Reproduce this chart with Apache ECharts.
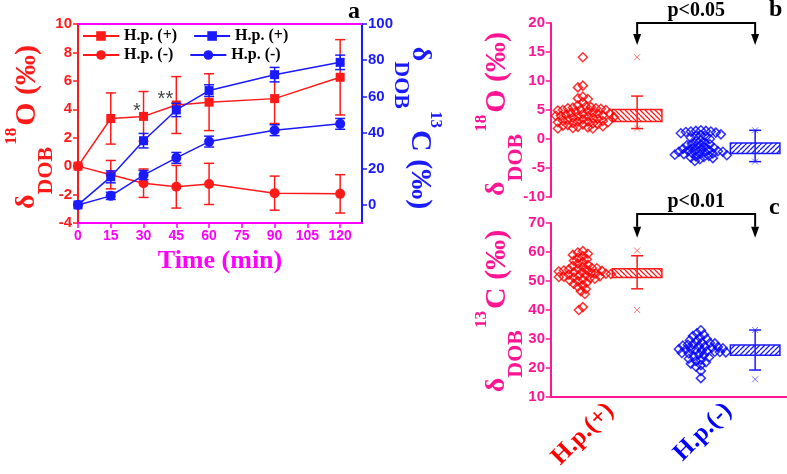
<!DOCTYPE html>
<html><head><meta charset="utf-8">
<script src="https://cdn.jsdelivr.net/npm/echarts@6/dist/echarts.min.js"></script>
<style>html,body{margin:0;padding:0;background:#fff}#c{width:787px;height:474px}</style>
</head><body><div id="c"></div>
<script>
// ---------- data: panel a ----------
const times = [0, 15, 30, 45, 60, 90, 120];
const timeTicks = [0, 15, 30, 45, 60, 75, 90, 105, 120];
const redPlus = [0, 3.35, 3.5, 4.3, 4.5, 4.75, 6.25];
const redPlusErr = [0, 1.8, 1.75, 2.0, 2.0, 1.75, 2.65];
const redMinus = [0, -0.6, -1.2, -1.45, -1.25, -1.9, -1.95];
const redMinusErr = [0, 1.0, 1.0, 1.5, 1.45, 1.2, 1.35];
const bluePlus = [0, 15.5, 35.5, 52.5, 63.2, 72.0, 78.8];
const bluePlusErr = [0, 3.3, 4.0, 3.7, 3.2, 4.0, 4.0];
const blueMinus = [0, 5.0, 16.5, 26.0, 35.0, 41.3, 44.8];
const blueMinusErr = [0, 2.0, 2.5, 3.0, 3.0, 3.0, 3.0];
const starNotes = [[27, 3.85, '*'], [40, 4.7, '**']];
const rightTicksA = [0, 20, 40, 60, 80, 100];

// ---------- data: panels b, c ----------
const groups = ['H.p.(+)', 'H.p.(-)'];
const o18Plus = [14.1, 9.2, 8.9, 7.3, 7.0, 6.9, 6.3, 5.8, 5.6, 5.5, 5.4, 5.3, 5.2, 5.1, 5.0, 5.0, 4.9, 4.8, 4.7, 4.6, 4.5, 4.4, 4.3, 4.2, 4.1, 4.0, 4.0, 3.9, 3.8, 3.7, 3.6, 3.5, 3.4, 3.3, 3.2, 3.1, 3.0, 3.0, 2.9, 2.8, 2.7, 2.6, 2.5, 2.4, 2.3, 2.2, 2.1, 2.0, 1.9, 1.8, 1.8, 2.9, 3.9, 4.4, 5.3];
const o18Minus = [1.5, 1.4, 1.4, 1.3, 1.3, 1.2, 1.1, 1.0, 0.8, 0.6, 0.4, 0.2, 0.0, -0.2, -0.4, -0.6, -0.8, -1.0, -1.1, -1.2, -1.4, -1.5, -1.6, -1.8, -1.9, -2.0, -2.0, -2.1, -2.2, -2.3, -2.4, -2.5, -2.6, -2.7, -2.8, -2.9, -3.0, -3.1, -3.2, -3.3, -3.5, -3.8, -1.7, -2.2, -0.9, 0.5, -2.6];
const c13Plus = [60.3, 59.8, 59.4, 59.0, 58.5, 58.0, 57.5, 57.0, 56.5, 56.0, 55.6, 55.2, 54.8, 54.5, 54.2, 54.0, 53.8, 53.5, 53.3, 53.1, 53.0, 52.8, 52.6, 52.4, 52.2, 52.0, 51.8, 51.6, 51.4, 51.2, 51.0, 50.8, 50.5, 50.2, 50.0, 49.5, 49.0, 48.5, 48.0, 47.2, 46.5, 45.5, 41.0, 40.0, 52.5, 53.6, 51.5, 54.4];
const c13Minus = [33.0, 32.0, 31.5, 31.0, 30.5, 30.0, 29.6, 29.2, 28.8, 28.5, 28.2, 28.0, 27.7, 27.4, 27.2, 27.0, 26.8, 26.6, 26.4, 26.2, 26.0, 25.8, 25.6, 25.4, 25.2, 25.0, 24.7, 24.4, 24.0, 23.6, 23.2, 22.8, 22.4, 22.0, 21.5, 21.0, 20.5, 19.0, 16.5, 26.5, 27.5, 25.5, 28.6];
// box stats: [q1, q3, whiskerLow, whiskerHigh, markLow, markHigh]
const o18Box = [[3.0, 5.1, 1.8, 7.4, 1.8, 14.1], [-2.5, -0.7, -3.9, 1.5, -3.9, 1.5]];
const c13Box = [[51.2, 54.2, 47.3, 58.7, 40.0, 60.5], [24.4, 27.9, 19.3, 33.1, 16.1, 33.1]];
const pLabels = ['p<0.05', 'p<0.01'];
const nameO18 = '{d|δ}{s|DOB}{p|18}{o|O (‰)}';
const nameC13 = '{d|δ}{s|DOB}{p|13}{o|C (‰)}';

// ---------- styles ----------
const RED = '#ff1a1a', BLUE = '#1a1aff', MAG = '#ff00ff', PINK = '#ff1493';
const SERIF = '"Liberation Serif","Times New Roman",serif';
const SANS = '"Liberation Sans",Arial,sans-serif';
const GCOL = [RED, BLUE];
const SWARM_OFF = -0.23, BOX_OFF = 0.23, BOX_W = 0.42;

function nameRich(color) {
  const b = {fontFamily: SERIF, fontWeight: 'bold', fill: color, color};
  return {
    d: Object.assign({}, b, {fontSize: 28, lineHeight: 60, verticalAlign: 'middle'}),
    s: Object.assign({}, b, {fontSize: 22, lineHeight: 22, verticalAlign: 'bottom'}),
    p: Object.assign({}, b, {fontSize: 17, lineHeight: 17, verticalAlign: 'top', padding: [6, 2, 0, 2]}),
    o: Object.assign({}, b, {fontSize: 30, lineHeight: 60, verticalAlign: 'middle'})
  };
}
function nameText(text, color, x, y, rot) {
  return {type: 'text', x, y, rotation: rot, silent: true,
    style: {text, rich: nameRich(color), fill: color, align: 'center', verticalAlign: 'middle'}};
}

function hatch(color, dir) {
  const c = document.createElement('canvas'); c.width = 5; c.height = 5;
  const g = c.getContext('2d'); g.strokeStyle = color; g.lineWidth = 1.3;
  g.beginPath();
  for (let k = -5; k <= 10; k += 5) {
    if (dir > 0) { g.moveTo(k, 5); g.lineTo(k + 5, 0); }
    else { g.moveTo(k, 0); g.lineTo(k + 5, 5); }
  }
  g.stroke();
  return c;
}
const PATS = [hatch(RED, -1), hatch(BLUE, 1)];

function swarm(values, center, pxX, pxY, d) {
  const placed = [];
  const order = values.map((v, i) => i).sort((a, b) => values[b] - values[a]);
  const out = [];
  order.forEach(i => {
    const y = values[i] * pxY;
    let off = 0;
    for (let k = 0; k < 400; k++) {
      const cand = (k % 2 ? -1 : 1) * Math.ceil(k / 2);
      let ok = true;
      for (const p of placed) {
        const dx = p[0] - cand, dy = p[1] - y;
        if (dx * dx + dy * dy < d * d) { ok = false; break; }
      }
      if (ok) { off = cand; break; }
    }
    placed.push([off, y]);
    out.push([center + off / pxX, values[i]]);
  });
  return out;
}

function errRender(color) {
  return function (params, api) {
    const x = api.value(0), lo = api.value(1), hi = api.value(2);
    if (hi - lo < 1e-9) return null;
    const p1 = api.coord([x, hi]), p2 = api.coord([x, lo]);
    const w = 5, st = {stroke: color, lineWidth: 1.5};
    return {type: 'group', children: [
      {type: 'line', shape: {x1: p1[0], y1: p1[1], x2: p2[0], y2: p2[1]}, style: st},
      {type: 'line', shape: {x1: p1[0] - w, y1: p1[1], x2: p1[0] + w, y2: p1[1]}, style: st},
      {type: 'line', shape: {x1: p2[0] - w, y1: p2[1], x2: p2[0] + w, y2: p2[1]}, style: st}
    ]};
  };
}

function boxRender(params, api) {
  const gi = params.dataIndex, col = GCOL[gi];
  const cx = api.value(0);
  const q1 = api.coord([cx, api.value(1)]), q3 = api.coord([cx, api.value(2)]);
  const wl = api.coord([cx, api.value(3)]), wh = api.coord([cx, api.value(4)]);
  const ml = api.coord([cx, api.value(5)]), mh = api.coord([cx, api.value(6)]);
  const w = api.size([BOX_W, 0])[0];
  const x0 = q1[0] - w / 2;
  const st = {stroke: col, lineWidth: 1.5, fill: 'none'};
  const cap = 6, xm = 3;
  const xMark = (p) => [
    {type: 'line', shape: {x1: p[0] - xm, y1: p[1] - xm, x2: p[0] + xm, y2: p[1] + xm}, style: {stroke: col, lineWidth: 1, opacity: 0.6}},
    {type: 'line', shape: {x1: p[0] - xm, y1: p[1] + xm, x2: p[0] + xm, y2: p[1] - xm}, style: {stroke: col, lineWidth: 1, opacity: 0.6}}
  ];
  return {type: 'group', children: [
    {type: 'line', shape: {x1: wh[0], y1: wh[1], x2: wl[0], y2: wl[1]}, style: st},
    {type: 'line', shape: {x1: wh[0] - cap, y1: wh[1], x2: wh[0] + cap, y2: wh[1]}, style: st},
    {type: 'line', shape: {x1: wl[0] - cap, y1: wl[1], x2: wl[0] + cap, y2: wl[1]}, style: st},
    {type: 'rect', shape: {x: x0, y: q3[1], width: w, height: q1[1] - q3[1]}, style: {fill: '#fff'}},
    {type: 'rect', shape: {x: x0, y: q3[1], width: w, height: q1[1] - q3[1]}, style: {fill: {image: PATS[gi], repeat: 'repeat'}, stroke: col, lineWidth: 1.5}},
    {type: 'line', shape: {x1: q1[0], y1: q3[1], x2: q1[0], y2: q1[1]}, style: st}
  ].concat(xMark(ml), xMark(mh))};
}

function bracketRender(labelIdx) {
  return function (params, api) {
    const yt = api.value(0), ytip = api.value(1);
    const xl = 0.5 + BOX_OFF, xr = 1.5 + BOX_OFF;
    const a = api.coord([xl, yt]), b = api.coord([xr, yt]);
    const ta = api.coord([xl, ytip]), tb = api.coord([xr, ytip]);
    const ah = 11, aw = 4;
    return {type: 'group', children: [
      {type: 'polyline', shape: {points: [[ta[0], ta[1] - ah], a, b, [tb[0], tb[1] - ah]]}, style: {stroke: '#000', lineWidth: 2, fill: 'none'}},
      {type: 'polygon', shape: {points: [[ta[0] - aw, ta[1] - ah], [ta[0] + aw, ta[1] - ah], ta]}, style: {fill: '#000'}},
      {type: 'polygon', shape: {points: [[tb[0] - aw, tb[1] - ah], [tb[0] + aw, tb[1] - ah], tb]}, style: {fill: '#000'}},
      {type: 'text', x: (a[0] + b[0]) / 2, y: a[1] - 2, style: {text: pLabels[labelIdx], fill: '#000', font: 'bold 20px ' + SERIF, align: 'center', verticalAlign: 'bottom'}}
    ]};
  };
}

const PX_X = 118; // px per x unit in right panels
const swB0 = swarm(o18Plus, 0.5 + SWARM_OFF, PX_X, 174 / 30, 5);
const swB1 = swarm(o18Minus, 1.5 + SWARM_OFF, PX_X, 174 / 30, 4.6);
const swC0 = swarm(c13Plus, 0.5 + SWARM_OFF, PX_X, 173.4 / 60, 4.8);
const swC1 = swarm(c13Minus, 1.5 + SWARM_OFF, PX_X, 173.4 / 60, 4.8);

const pair = (arr) => times.map((t, i) => [t, arr[i]]);
const errData = (arr, e) => times.map((t, i) => [t, arr[i] - e[i], arr[i] + e[i]]);
const boxData = (bx) => bx.map((s, i) => [i + 0.5 + BOX_OFF].concat(s));

const diamondStyle = (c) => ({color: 'rgba(255,255,255,0)', borderColor: c, borderWidth: 1.5});
const legendText = {fontFamily: SERIF, fontWeight: 'bold', fontSize: 16, color: '#000'};
const valAxisY = (color) => ({
  axisLine: {show: true, onZero: false, lineStyle: {color, width: 2}},
  axisTick: {show: true, length: 5, lineStyle: {color, width: 1.5}},
  axisLabel: {color, fontWeight: 'bold', fontSize: 15, fontFamily: SANS, margin: 6},
  splitLine: {show: false}
});

const option = {
  animation: false,
  backgroundColor: '#fff',
  grid: [
    {left: 78, right: 425, top: 24, bottom: 251, outerBoundsMode: 'none', containLabel: false},
    {left: 551, right: 0, top: 23, bottom: 277, outerBoundsMode: 'none', containLabel: false},
    {left: 551, right: 0, top: 223, bottom: 77, outerBoundsMode: 'none', containLabel: false}
  ],
  legend: [
    {left: 82, top: 28, padding: 0, itemWidth: 36, itemHeight: 12, itemGap: 16, data: ['H.p. (+)', 'H.p. (+)|b'],
     formatter: n => n.split('|')[0], textStyle: legendText},
    {left: 82, top: 47, padding: 0, itemWidth: 36, itemHeight: 12, itemGap: 16, data: ['H.p. (-)', 'H.p. (-)|b'],
     formatter: n => n.split('|')[0], textStyle: legendText}
  ],
  xAxis: [
    {gridIndex: 0, type: 'value', min: 0, max: 130, interval: 15, position: 'bottom',
     axisLine: {onZero: false, lineStyle: {color: MAG, width: 2}},
     axisTick: {customValues: timeTicks, length: 5, lineStyle: {color: MAG, width: 1.5}},
     axisLabel: {customValues: timeTicks, color: MAG, fontWeight: 'bold', fontSize: 14, fontFamily: SANS, margin: 6},
     splitLine: {show: false},
     name: 'Time (min)', nameLocation: 'middle', nameGap: 25,
     nameTextStyle: {color: MAG, fontFamily: SERIF, fontWeight: 'bold', fontSize: 26}},
    {gridIndex: 0, type: 'value', min: 0, max: 130, position: 'top',
     axisLine: {onZero: false, lineStyle: {color: MAG, width: 2}}, axisTick: {show: false}, axisLabel: {show: false}, splitLine: {show: false}},
    {gridIndex: 1, type: 'value', min: 0, max: 2, show: false},
    {gridIndex: 2, type: 'category', data: [{value: groups[0], textStyle: {color: '#ff0000'}}, {value: groups[1], textStyle: {color: '#0000ff'}}],
     axisLine: {onZero: false, lineStyle: {color: PINK, width: 2}},
     axisTick: {alignWithLabel: true, length: 5, lineStyle: {color: PINK, width: 1.5}},
     axisLabel: {rotate: 45, fontFamily: SERIF, fontWeight: 'bold', fontSize: 25, margin: 10}},
    {gridIndex: 2, type: 'value', min: 0, max: 2, show: false}
  ],
  yAxis: [
    Object.assign({gridIndex: 0, type: 'value', min: -4, max: 10, interval: 2, position: 'left'}, valAxisY(RED)),
    Object.assign({gridIndex: 0, type: 'value', min: -10, max: 100, interval: 10, position: 'right'}, valAxisY(BLUE), {
      axisTick: {show: true, customValues: rightTicksA, length: 5, lineStyle: {color: BLUE, width: 1.5}},
      axisLabel: {customValues: rightTicksA, color: BLUE, fontWeight: 'bold', fontSize: 15, fontFamily: SANS, margin: 6}}),
    Object.assign({gridIndex: 1, type: 'value', min: -10, max: 20, interval: 5}, valAxisY(PINK)),
    Object.assign({gridIndex: 2, type: 'value', min: 10, max: 70, interval: 10}, valAxisY(PINK))
  ],
  graphic: [
    {type: 'text', left: 348, top: 0, style: {text: 'a', font: 'bold 24px ' + SERIF, fill: '#000'}},
    {type: 'text', left: 769, top: -2, style: {text: 'b', font: 'bold 24px ' + SERIF, fill: '#000'}},
    {type: 'text', left: 769, top: 196, style: {text: 'c', font: 'bold 24px ' + SERIF, fill: '#000'}},
    nameText(nameO18, RED, 27, 127, Math.PI / 2),
    nameText(nameC13, BLUE, 420, 128, -Math.PI / 2),
    nameText(nameO18, PINK, 497, 114, Math.PI / 2),
    nameText(nameC13, PINK, 497, 311, Math.PI / 2)
  ],
  series: [
    {type: 'custom', name: 'errRP', xAxisIndex: 0, yAxisIndex: 0, renderItem: errRender(RED), data: errData(redPlus, redPlusErr), encode: {x: 0, y: [1, 2]}, z: 1, silent: true},
    {type: 'custom', name: 'errRM', xAxisIndex: 0, yAxisIndex: 0, renderItem: errRender(RED), data: errData(redMinus, redMinusErr), encode: {x: 0, y: [1, 2]}, z: 1, silent: true},
    {type: 'line', name: 'H.p. (+)', xAxisIndex: 0, yAxisIndex: 0, data: pair(redPlus), symbol: 'rect', symbolSize: 9,
     itemStyle: {color: RED}, lineStyle: {color: RED, width: 1.5}, z: 2},
    {type: 'line', name: 'H.p. (-)', xAxisIndex: 0, yAxisIndex: 0, data: pair(redMinus), symbol: 'circle', symbolSize: 10,
     itemStyle: {color: RED}, lineStyle: {color: RED, width: 1.5}, z: 2},
    {type: 'custom', name: 'errBP', xAxisIndex: 0, yAxisIndex: 1, renderItem: errRender(BLUE), data: errData(bluePlus, bluePlusErr), encode: {x: 0, y: [1, 2]}, z: 3, silent: true},
    {type: 'custom', name: 'errBM', xAxisIndex: 0, yAxisIndex: 1, renderItem: errRender(BLUE), data: errData(blueMinus, blueMinusErr), encode: {x: 0, y: [1, 2]}, z: 3, silent: true},
    {type: 'line', name: 'H.p. (+)|b', xAxisIndex: 0, yAxisIndex: 1, data: pair(bluePlus), symbol: 'rect', symbolSize: 9,
     itemStyle: {color: BLUE}, lineStyle: {color: BLUE, width: 1.5}, z: 4},
    {type: 'line', name: 'H.p. (-)|b', xAxisIndex: 0, yAxisIndex: 1, data: pair(blueMinus), symbol: 'circle', symbolSize: 10,
     itemStyle: {color: BLUE}, lineStyle: {color: BLUE, width: 1.5}, z: 4},
    {type: 'scatter', name: 'stars', xAxisIndex: 0, yAxisIndex: 0, data: starNotes, symbolSize: 1, itemStyle: {color: 'rgba(0,0,0,0)'},
     label: {show: true, position: 'inside', formatter: p => p.data[2], fontSize: 20, fontFamily: SANS, color: '#111'}, silent: true, z: 5},

    {type: 'scatter', name: 'b0', xAxisIndex: 2, yAxisIndex: 2, data: swB0, symbol: 'diamond', symbolSize: 9, itemStyle: diamondStyle('#ff0000')},
    {type: 'scatter', name: 'b1', xAxisIndex: 2, yAxisIndex: 2, data: swB1, symbol: 'diamond', symbolSize: 9, itemStyle: diamondStyle('#0000ff')},
    {type: 'custom', name: 'boxB', xAxisIndex: 2, yAxisIndex: 2, renderItem: boxRender, data: boxData(o18Box), encode: {x: 0, y: [1, 2, 3, 4, 5, 6]}, silent: true},
    {type: 'custom', name: 'brB', xAxisIndex: 2, yAxisIndex: 2, renderItem: bracketRender(0), data: [[20, 16.2]], encode: {y: [0, 1]}, clip: false, silent: true},

    {type: 'scatter', name: 'c0', xAxisIndex: 4, yAxisIndex: 3, data: swC0, symbol: 'diamond', symbolSize: 9, itemStyle: diamondStyle('#ff0000')},
    {type: 'scatter', name: 'c1', xAxisIndex: 4, yAxisIndex: 3, data: swC1, symbol: 'diamond', symbolSize: 9, itemStyle: diamondStyle('#0000ff')},
    {type: 'custom', name: 'boxC', xAxisIndex: 4, yAxisIndex: 3, renderItem: boxRender, data: boxData(c13Box), encode: {x: 0, y: [1, 2, 3, 4, 5, 6]}, silent: true},
    {type: 'custom', name: 'brC', xAxisIndex: 4, yAxisIndex: 3, renderItem: bracketRender(1), data: [[73.1, 64.9]], encode: {y: [0, 1]}, clip: false, silent: true}
  ]
};
const chart = echarts.init(document.getElementById('c'), null, {renderer: 'canvas'});
chart.setOption(option);
</script></body></html>
